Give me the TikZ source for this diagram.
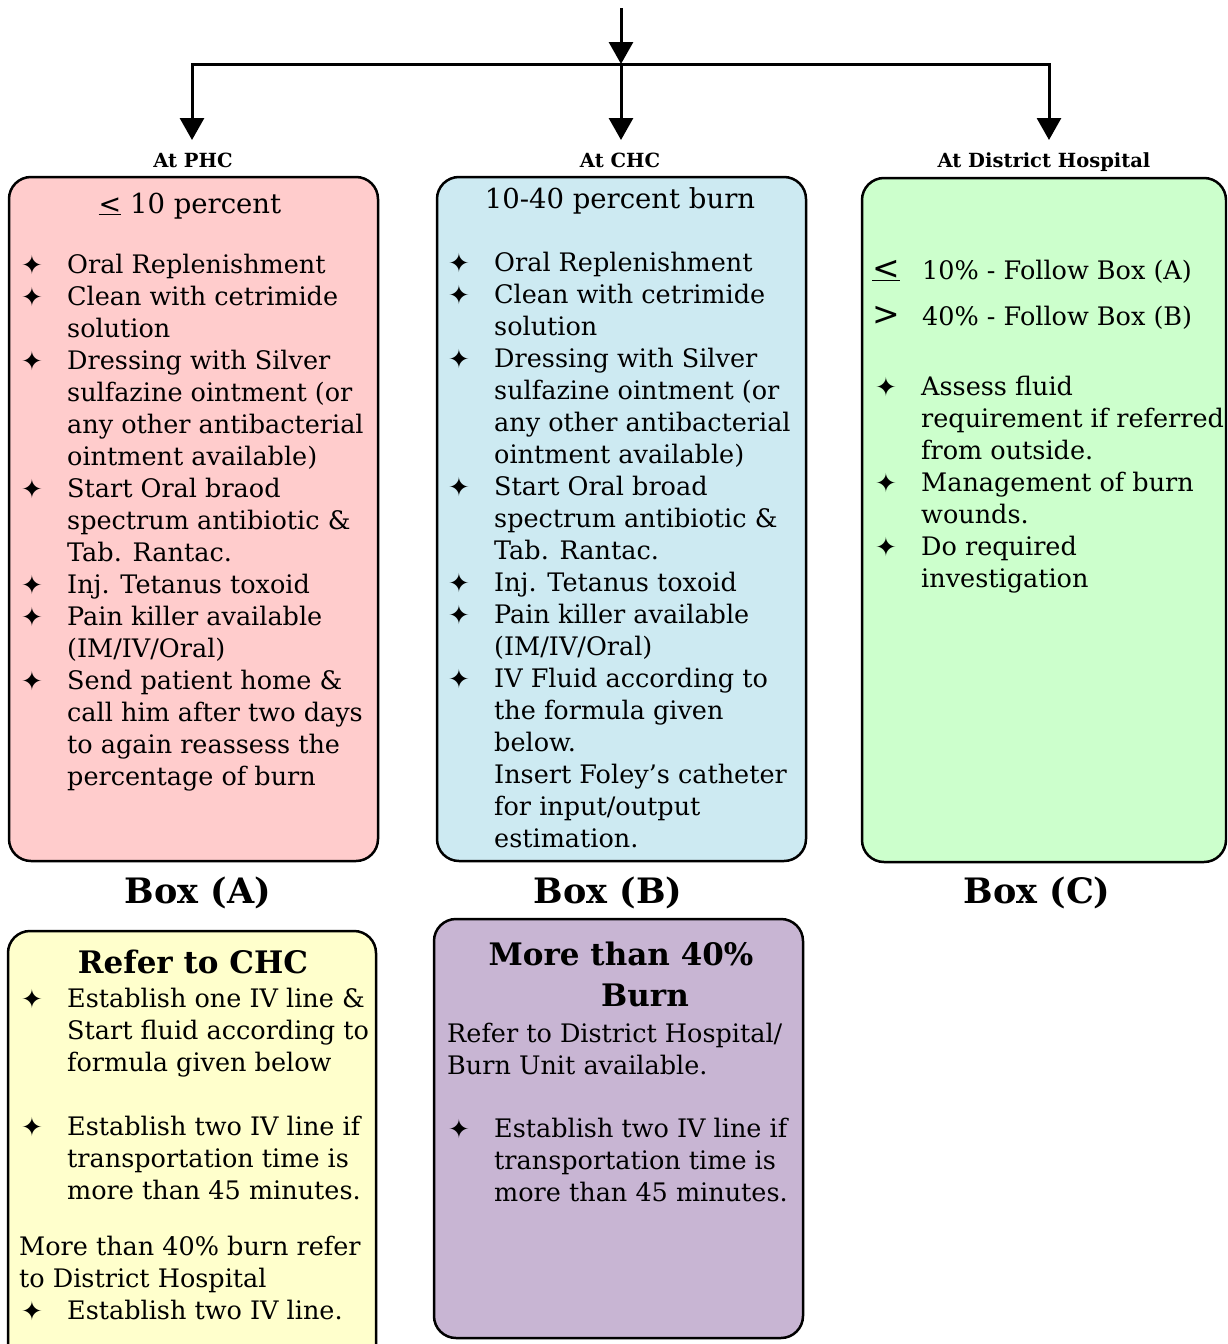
\documentclass[tikz,border=0pt]{standalone}
\usepackage{fontspec}
\setmainfont{DejaVu Serif}
\newfontfamily\symfont{DejaVu Sans}
\usetikzlibrary{arrows.meta}

\definecolor{fillA}{RGB}{255,204,204}
\definecolor{fillB}{RGB}{205,234,242}
\definecolor{fillC}{RGB}{204,255,204}
\definecolor{fillY}{RGB}{255,255,204}
\definecolor{fillP}{RGB}{200,181,211}

% body text size and list helpers
\newcommand{\bodysize}{\fontsize{25.5}{32}\selectfont}
\newcommand{\bul}{\raisebox{-1pt}{\symfont\fontsize{26}{28}\selectfont ✦}}
\newcommand{\B}{\makebox[46pt][l]{\bul}}
\newcommand{\N}{\hspace*{46pt}}
\newcommand{\lines}[1]{\begin{tabular}[t]{@{}l@{}}#1\end{tabular}}
\newcommand{\lesym}[1]{{\symfont\fontsize{#1}{32}\selectfont\underline{<}}}
\newcommand{\gtsym}[1]{{\symfont\fontsize{#1}{32}\selectfont >}}

\begin{document}
\begin{tikzpicture}[x=1pt,y=-1pt,
  panel/.style={draw=black, line width=2.5pt, rounded corners=22pt},
  body/.style={inner sep=0pt, anchor=base west, font=\bodysize},
  place/.style={inner sep=0pt, anchor=base, font=\fontsize{19.5}{22}\selectfont\bfseries},
  boxname/.style={inner sep=0pt, anchor=base, font=\fontsize{35}{40}\selectfont\bfseries},
  head/.style={inner sep=0pt, anchor=base, font=\fontsize{31}{40}\selectfont\bfseries},
  conn/.style={line width=3pt},
  arr/.style={conn, -{Triangle[length=22pt,width=24pt]}}
]
\useasboundingbox (0,0) rectangle (1227,1344);
\clip (0,0) rectangle (1227,1344);

% ---------- connectors ----------
\coordinate (src) at (621,8);
\coordinate (hub) at (621,64);
\coordinate (tipA) at (192,140);
\coordinate (tipB) at (621,140);
\coordinate (tipC) at (1049,140);
\draw[arr] (src) -- (hub);
\draw[arr] (hub) -| (tipA);
\draw[arr] (hub) -| (tipC);
\draw[arr] (hub) -- (tipB);

% ---------- place labels ----------
\node[place] (labA) at (193,167) {At PHC};
\node[place] (labB) at (620,167) {At CHC};
\node[place] (labC) at (1044,167) {At District Hospital};

% ---------- panels ----------
\draw[panel, fill=fillA] (9,177) rectangle (378,861);
\draw[panel, fill=fillB] (437,177) rectangle (806,861);
\draw[panel, fill=fillC] (862,178) rectangle (1226,862);
\draw[panel, fill=fillY] (8,931) rectangle (376,1370);
\draw[panel, fill=fillP] (434,919) rectangle (803,1338);

\node[boxname] (nameA) at (198,903) {Box (A)};
\node[boxname] (nameB) at (608,903) {Box (B)};
\node[boxname] (nameC) at (1037,903) {Box (C)};

% ---------- Box (A) ----------
\node[inner sep=0pt, anchor=base, font=\fontsize{27.5}{32}\selectfont] (titleA) at (190,213)
  {\lesym{27}\ 10 percent};
\node[body] (bodyA) at (21,273) {\lines{%
\B Oral Replenishment\\
\B Clean with cetrimide\\
\N solution\\
\B Dressing with Silver\\
\N sulfazine ointment (or\\
\N any other antibacterial\\
\N ointment available)\\
\B Start Oral braod\\
\N spectrum antibiotic \&\\
\N Tab. Rantac.\\
\B Inj. Tetanus toxoid\\
\B Pain killer available\\
\N (IM/IV/Oral)\\
\B Send patient home \&\\
\N call him after two days\\
\N to again reassess the\\
\N percentage of burn}};

% ---------- Box (B) ----------
\node[inner sep=0pt, anchor=base, font=\fontsize{27.5}{32}\selectfont] (titleB) at (620,208)
  {10-40 percent burn};
\node[body] (bodyB) at (448,271) {\lines{%
\B Oral Replenishment\\
\B Clean with cetrimide\\
\N solution\\
\B Dressing with Silver\\
\N sulfazine ointment (or\\
\N any other antibacterial\\
\N ointment available)\\
\B Start Oral broad\\
\N spectrum antibiotic \&\\
\N Tab. Rantac.\\
\B Inj. Tetanus toxoid\\
\B Pain killer available\\
\N (IM/IV/Oral)\\
\B IV Fluid according to\\
\N the formula given\\
\N below.\\
\N Insert Foley’s catheter\\
\N for input/output\\
\N estimation.}};

% ---------- Box (C) ----------
\node[body] (rangeC) at (872,279) {\lines{%
\makebox[50pt][l]{\lesym{33}}10\% - Follow Box (A)\\[14pt]
\makebox[50pt][l]{\gtsym{33}}40\% - Follow Box (B)}};
\node[body] (bodyC) at (875,395) {\lines{%
\B Assess fluid\\
\N requirement if referred\\
\N from outside.\\
\B Management of burn\\
\N wounds.\\
\B Do required\\
\N investigation}};

% ---------- Refer to CHC ----------
\node[head] (titleY) at (193,973) {Refer to CHC};
\node[body] (bodyY1) at (21,1007) {\lines{%
\B Establish one IV line \&\\
\N Start fluid according to\\
\N formula given below\\
\\
\B Establish two IV line if\\
\N transportation time is\\
\N more than 45 minutes.}};
\node[body] (bodyY2) at (19,1255) {\lines{%
More than 40\% burn refer\\
to District Hospital\\
\hspace*{2pt}\B Establish two IV line.}};

% ---------- More than 40% Burn ----------
\node[head] (titleP1) at (621,965) {More than 40\%};
\node[head] (titleP2) at (645,1006) {Burn};
\node[body] (bodyP1) at (447,1042) {\lines{%
Refer to District Hospital/\\
Burn Unit available.}};
\node[body] (bodyP2) at (448,1137) {\lines{%
\B Establish two IV line if\\
\N transportation time is\\
\N more than 45 minutes.}};
\end{tikzpicture}
\end{document}
